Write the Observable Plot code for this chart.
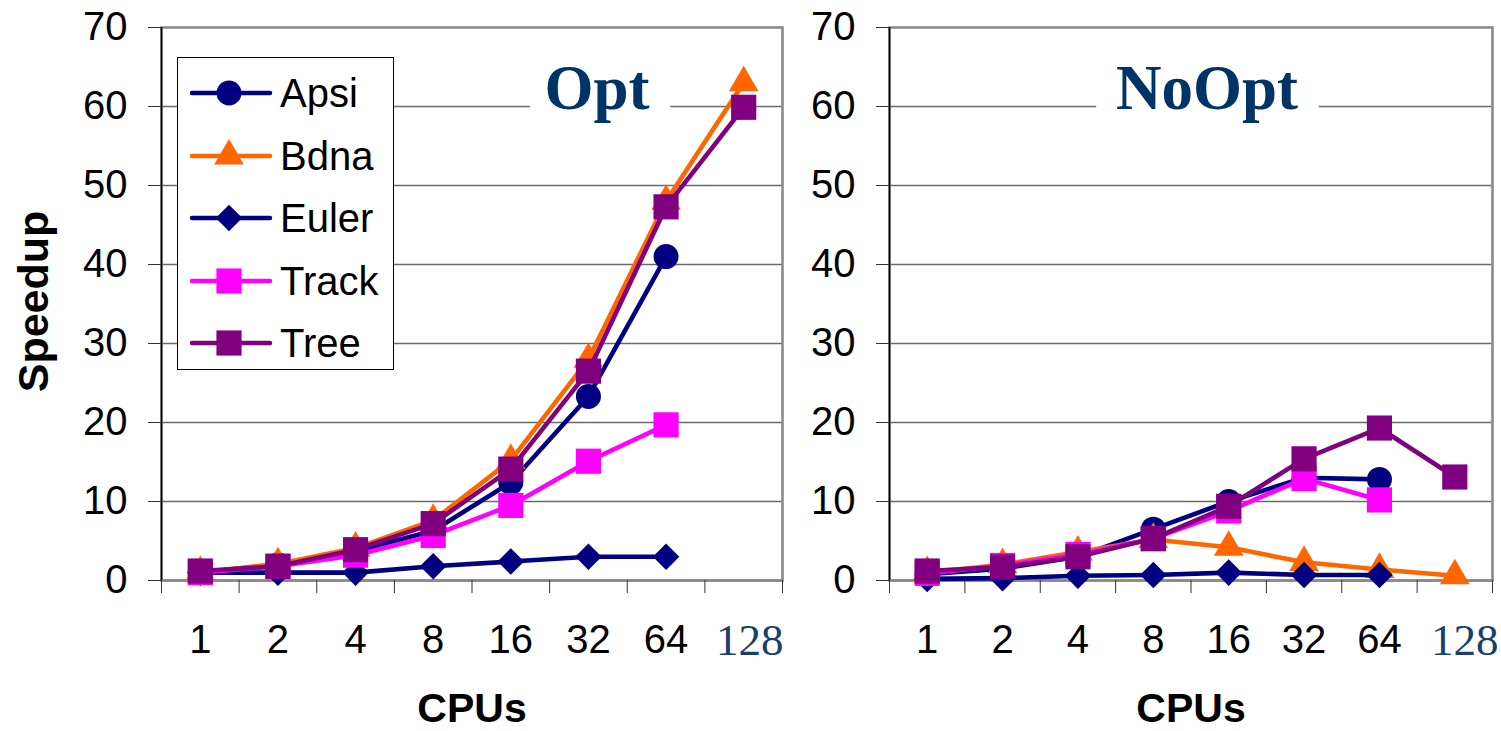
<!DOCTYPE html>
<html>
<head>
<meta charset="utf-8">
<script src="https://cdn.jsdelivr.net/npm/d3@7"></script>
<script src="https://cdn.jsdelivr.net/npm/@observablehq/plot@0.6"></script>
<style>
  html, body { margin: 0; padding: 0; background: #fff; }
  #wrap { position: relative; width: 1501px; height: 731px; overflow: hidden; font-family: "Liberation Sans", Arial, sans-serif; }
  #wrap svg.plot { position: absolute; top: 0; }
  #legend { position: absolute; left: 177px; top: 57px; width: 215px; height: 311px; border: 1.5px solid #000; background: #fff; }
</style>
</head>
<body>
<div id="wrap"></div>
<script>
// ---- data ----
const cpus = ["1", "2", "4", "8", "16", "32", "64", "128"];
const speedTicks = [0, 10, 20, 30, 40, 50, 60, 70];
const seriesNames = ["Apsi", "Bdna", "Euler", "Track", "Tree"];
const seriesColors = ["#000080", "#FF6600", "#000080", "#FF00FF", "#800080"];
const seriesSymbols = ["circle", "triangle", "diamond", "square", "square"];
const panelTitles = ["Opt", "NoOpt"];

const optApsi  = [1.0, 2.0, 3.7, 6.3, 12.4, 23.3, 41.0, null];
const optBdna  = [1.0, 2.1, 4.1, 7.6, 15.2, 28.0, 48.0, 63.0];
const optEuler = [1.0, 1.0, 1.0, 1.8, 2.4, 3.0, 3.0, null];
const optTrack = [1.0, 1.8, 3.2, 5.7, 9.5, 15.1, 19.7, null];
const optTree  = [1.2, 1.8, 3.9, 7.2, 14.1, 26.5, 47.3, 59.9];

const noOptApsi  = [0.8, 1.5, 3.0, 6.5, 10.0, 13.0, 12.8, null];
const noOptBdna  = [1.0, 2.0, 3.6, 5.2, 4.2, 2.3, 1.4, 0.6];
const noOptEuler = [0.2, 0.3, 0.6, 0.7, 1.0, 0.7, 0.7, null];
const noOptTrack = [0.9, 1.9, 3.3, 5.3, 8.8, 12.9, 10.2, null];
const noOptTree  = [1.2, 1.7, 3.0, 5.3, 9.4, 15.4, 19.3, 13.1];

const optSeries = [optApsi, optBdna, optEuler, optTrack, optTree];
const noOptSeries = [noOptApsi, noOptBdna, noOptEuler, noOptTrack, noOptTree];

// ---- drawing ----
const symbolR = {circle: 12.5, triangle: 11, diamond: 10.6, square: 14.2};

function symbolOpts(sym) {
  if (sym === "diamond") return {symbol: "square", rotate: 45, r: symbolR.diamond};
  return {symbol: sym, r: symbolR[sym]};
}

function seriesMarks(seriesList) {
  const marks = [];
  seriesList.forEach((vals, k) => {
    const rows = cpus.map((c, i) => ({x: i + 0.5, y: vals[i]}));
    marks.push(Plot.line(rows, {x: "x", y: "y", stroke: seriesColors[k], strokeWidth: 4.6, strokeLinejoin: "round"}));
    marks.push(Plot.dot(rows.filter(d => d.y != null), {x: "x", y: "y", fill: seriesColors[k], stroke: "none", ...symbolOpts(seriesSymbols[k])}));
  });
  return marks;
}

function panel({width, marginLeft, marginRight, seriesList, title, titleDx, lastDx}) {
  const boundaries = d3.range(cpus.length + 1);
  return Plot.plot({
    width, height: 731,
    marginLeft, marginRight, marginTop: 27, marginBottom: 151,
    x: {type: "linear", domain: [0, cpus.length]},
    y: {domain: [0, 70]},
    style: {fontFamily: "'Liberation Sans', Arial, sans-serif", background: "transparent", overflow: "visible"},
    marks: [
      Plot.gridY(speedTicks.slice(1, -1), {stroke: "#6a6a6a", strokeOpacity: 1, strokeWidth: 1.4}),
      Plot.frame({stroke: "#8a8a8a", strokeWidth: 2.6}),
      Plot.ruleY([0], {stroke: "#8a8a8a", strokeWidth: 2.6}),
      Plot.ruleX([0], {stroke: "#000", strokeWidth: 1.6}),
      Plot.axisY(speedTicks, {anchor: "left", tickSize: 13, tickPadding: 21, fontSize: 40, label: null, color: "#000", stroke: "#333", tickFormat: d => String(d)}),
      Plot.axisX(boundaries, {anchor: "bottom", tickSize: 13, label: null, stroke: "#333", tickFormat: () => ""}),
      Plot.text(cpus.slice(0, -1), {x: (d, i) => i + 0.5, text: d => d, frameAnchor: "bottom", lineAnchor: "middle", dy: 60, fontSize: 40, fill: "#000"}),
      Plot.text(cpus.slice(-1), {x: () => cpus.length - 0.5, text: d => d, frameAnchor: "bottom", lineAnchor: "middle", dy: 60, dx: lastDx, fontSize: 45, fill: "#17406d", fontFamily: "'Liberation Serif', 'Times New Roman', serif"}),
      Plot.text(["CPUs"], {text: d => d, frameAnchor: "bottom", lineAnchor: "middle", dy: 128, fontSize: 41, fontWeight: "bold", fill: "#000"}),
      Plot.text([title], {text: d => d, frameAnchor: "top", lineAnchor: "middle", dy: 61, dx: titleDx, fontSize: 63, fontWeight: "bold", fill: "#003366",
        fontFamily: "'Liberation Serif', 'Times New Roman', serif", stroke: "#fff", strokeWidth: 42, strokeLinejoin: "round", paintOrder: "stroke"}),
      ...seriesMarks(seriesList)
    ]
  });
}

const wrap = document.getElementById("wrap");

const left = panel({width: 800, marginLeft: 161, marginRight: 18, seriesList: optSeries, title: panelTitles[0], titleDx: 125, lastDx: 6});
left.classList.add("plot");
left.style.left = "0px";
wrap.appendChild(left);

const right = panel({width: 701, marginLeft: 89, marginRight: 9, seriesList: noOptSeries, title: panelTitles[1], titleDx: 16, lastDx: 10});
right.classList.add("plot");
right.style.left = "800px";
wrap.appendChild(right);

// Speedup label (left panel only)
const yLabel = Plot.plot({
  width: 80, height: 731, margin: 0,
  x: {domain: [0, 1]}, y: {domain: [0, 1]},
  axis: null,
  style: {background: "transparent", fontFamily: "'Liberation Sans', Arial, sans-serif"},
  marks: [Plot.text(["Speedup"], {text: d => d, frameAnchor: "top-left", textAnchor: "middle", lineAnchor: "middle", dx: 34, dy: 301, rotate: -90, fontSize: 43, fontWeight: "bold", fill: "#000"})]
});
yLabel.classList.add("plot");
yLabel.style.left = "0px";
wrap.appendChild(yLabel);

// legend
const legend = document.createElement("div");
legend.id = "legend";
wrap.appendChild(legend);
seriesNames.forEach((name, k) => {
  const row = document.createElement("div");
  row.style.cssText = "position:absolute;left:0;top:" + (4 + k * 62.5) + "px;height:62px;width:100%;";
  const svg = d3.create("svg").attr("width", 100).attr("height", 62).style("position", "absolute").style("left", "0px").style("top", "0px");
  svg.append("line").attr("x1", 14).attr("x2", 92).attr("y1", 31).attr("y2", 31)
    .attr("stroke", seriesColors[k]).attr("stroke-width", 4.5).attr("stroke-linecap", "round");
  const sym = seriesSymbols[k];
  const o = symbolOpts(sym);
  const d3sym = {circle: d3.symbolCircle, triangle: d3.symbolTriangle, square: d3.symbolSquare}[o.symbol];
  svg.append("path").attr("d", d3.symbol(d3sym, Math.PI * o.r * o.r)())
    .attr("transform", "translate(51,31)" + (o.rotate ? " rotate(" + o.rotate + ")" : ""))
    .attr("fill", seriesColors[k]);
  row.appendChild(svg.node());
  const label = document.createElement("div");
  label.textContent = name;
  label.style.cssText = "position:absolute;left:102px;top:0;line-height:62px;font-size:40px;color:#000;";
  row.appendChild(label);
  legend.appendChild(row);
});
</script>
</body>
</html>
